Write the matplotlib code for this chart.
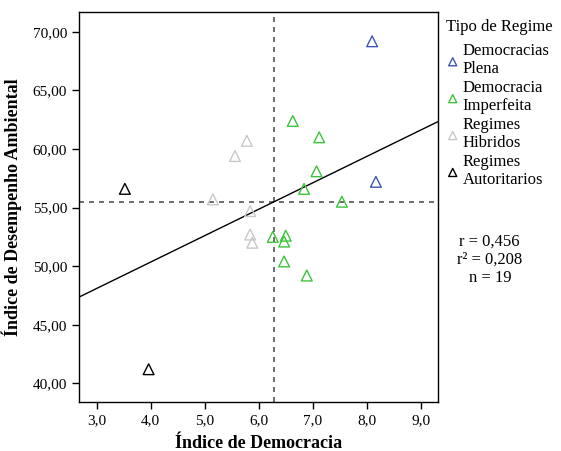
import numpy as np
import matplotlib
matplotlib.use("Agg")
import matplotlib.pyplot as plt
from matplotlib.ticker import FuncFormatter

plt.rcParams['font.family'] = ['Liberation Serif', 'DejaVu Serif']

# Índice de Democracia (x) e Índice de Desempenho Ambiental (y) por tipo de regime
grupos = ["Democracias\nPlena", "Democracia\nImperfeita", "Regimes\nHibridos", "Regimes\nAutoritarios"]
cores = ["#3f55b5", "#3cc43c", "#c8c8c8", "#000000"]

plena_x = [8.10, 8.17]
plena_y = [69.2, 57.2]
imperf_x = [6.63, 7.12, 7.07, 6.84, 7.54, 6.26, 6.50, 6.47, 6.47, 6.89]
imperf_y = [62.4, 61.0, 58.1, 56.6, 55.5, 52.5, 52.6, 52.1, 50.4, 49.2]
hibr_x = [5.78, 5.56, 5.15, 5.84, 5.84, 5.88]
hibr_y = [60.7, 59.4, 55.7, 54.7, 52.7, 52.0]
autor_x = [3.52, 3.96]
autor_y = [56.6, 41.2]

estat = ["r = 0,456", "r² = 0,208", "n = 19"]

series = [(plena_x, plena_y), (imperf_x, imperf_y), (hibr_x, hibr_y), (autor_x, autor_y)]

fig = plt.figure(figsize=(5.61, 4.51), dpi=100)
ax = fig.add_axes([0.1408, 0.1086, 0.6399, 0.8648])

for (xs, ys), nome, cor in zip(series, grupos, cores):
    ax.scatter(xs, ys, marker='^', s=60, facecolors='none', edgecolors=cor,
               linewidths=1.0, label=nome, zorder=3)

todos_x = np.concatenate([s[0] for s in series])
todos_y = np.concatenate([s[1] for s in series])

# linhas de referencia nas medias
ax.axvline(todos_x.mean(), color='#555555', ls=(0, (3, 3)), lw=1.2, zorder=2)
ax.axhline(todos_y.mean(), color='#555555', ls=(0, (3, 3)), lw=1.2, zorder=2)

# reta de regressao
b, a = np.polyfit(todos_x, todos_y, 1)
xl = np.array([2.67, 9.32])
ax.plot(xl, a + b * xl, color='black', lw=1.0, zorder=2)

ax.set_xlim(2.67, 9.32)
ax.set_ylim(38.4, 71.7)
ax.set_xticks(np.arange(3, 9.5, 1.0))
ax.set_yticks(np.arange(40, 71, 5))
ax.xaxis.set_major_formatter(FuncFormatter(lambda v, p: f"{v:.1f}".replace('.', ',')))
ax.yaxis.set_major_formatter(FuncFormatter(lambda v, p: f"{v:.2f}".replace('.', ',')))
ax.tick_params(direction='out', length=5, width=1, labelsize=11, top=False, right=False)
for sp in ax.spines.values():
    sp.set_linewidth(1.0)

ax.set_xlabel("Índice de Democracia", fontsize=13, fontweight='bold', labelpad=6)
ax.set_ylabel("Índice de Desempenho Ambiental", fontsize=13, fontweight='bold', labelpad=8)

leg = ax.legend(loc='upper left', bbox_to_anchor=(0.99, 1.013), frameon=False,
                title="Tipo de Regime", fontsize=12, title_fontsize=12,
                handletextpad=0.2, handlelength=0.8, labelspacing=0.15,
                borderpad=0.2, markerscale=0.75)
leg._legend_box.align = "left"
leg._legend_box.sep = 6

for i, t in enumerate(estat):
    fig.text(0.873, 0.465 - i * 0.041, t, ha='center', va='center', fontsize=12)

fig.savefig("out.png", dpi=100)
